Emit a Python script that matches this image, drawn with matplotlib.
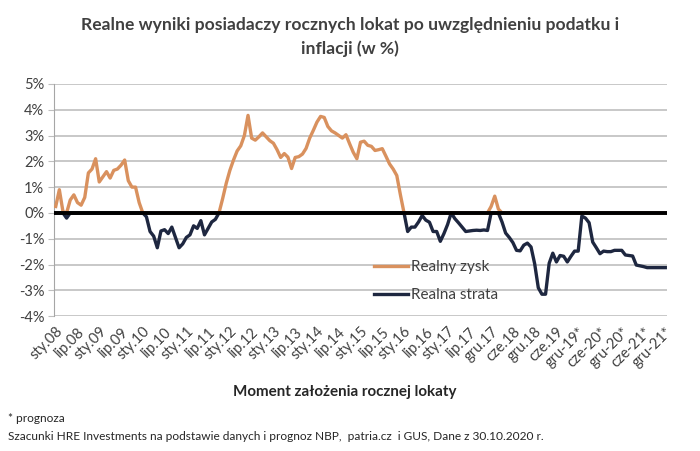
import numpy as np
import matplotlib
matplotlib.use("Agg")
import matplotlib.pyplot as plt
from matplotlib.ticker import FuncFormatter

plt.rcParams['font.family'] = ['Lato', 'DejaVu Sans']

# realny wynik (w %), miesiecznie, od sty.08 do gru-21*
wynik = [
    0.25, 0.9, 0.05, -0.2, 0.5, 0.7, 0.4, 0.3, 0.6, 1.55,
    1.7, 2.1, 1.2, 1.4, 1.6, 1.35, 1.65, 1.7, 1.85, 2.05,
    1.25, 1.0, 1.0, 0.4, 0.0, -0.15, -0.72, -0.9, -1.35, -0.7,
    -0.65, -0.8, -0.55, -0.95, -1.35, -1.2, -0.95, -0.85, -0.5, -0.6,
    -0.3, -0.85, -0.6, -0.35, -0.25, 0.0, 0.55, 1.15, 1.65, 2.05,
    2.4, 2.6, 3.0, 3.78, 2.9, 2.82, 2.95, 3.1, 2.95, 2.8,
    2.7, 2.45, 2.15, 2.3, 2.16, 1.72, 2.15, 2.18, 2.28, 2.5,
    2.9, 3.2, 3.52, 3.74, 3.7, 3.35, 3.18, 3.1, 3.0, 2.9,
    3.03, 2.68, 2.35, 2.1, 2.74, 2.78, 2.62, 2.58, 2.42, 2.45,
    2.49, 2.2, 1.9, 1.7, 1.45, 0.7, 0.0, -0.72, -0.55, -0.55,
    -0.35, -0.1, -0.28, -0.36, -0.72, -0.72, -1.1, -0.8, -0.45, 0.0,
    -0.22, -0.38, -0.55, -0.72, -0.7, -0.68, -0.67, -0.68, -0.66, -0.68,
    0.25, 0.65, 0.15, -0.35, -0.78, -0.95, -1.15, -1.45, -1.47, -1.25,
    -1.17, -1.32, -1.97, -2.9, -3.15, -3.15, -1.95, -1.56, -1.9, -1.65,
    -1.68, -1.9, -1.68, -1.48, -1.48, -0.12, -0.2, -0.38, -1.13, -1.35,
    -1.58, -1.48, -1.5, -1.5, -1.45, -1.45, -1.45, -1.63, -1.65, -1.67,
    -2.02, -2.05, -2.08, -2.12, -2.12, -2.12, -2.12, -2.12, -2.12,
]

etykiety = [
    'sty.08', 'lip.08', 'sty.09', 'lip.09', 'sty.10', 'lip.10', 'sty.11',
    'lip.11', 'sty.12', 'lip.12', 'sty.13', 'lip.13', 'sty.14', 'lip.14',
    'sty.15', 'lip.15', 'sty.16', 'lip.16', 'sty.17', 'lip.17', 'gru.17',
    'cze.18', 'gru.18', 'cze.19', 'gru-19*', 'cze-20*', 'gru-20*',
    'cze-21*', 'gru-21*',
]

wynik = np.array(wynik)
x = np.arange(len(wynik))
zysk = np.clip(wynik, 0, None)
strata = np.clip(wynik, None, 0)

orange = '#D9915E'
navy = '#1E2740'
grey_txt = '#404040'

fig = plt.figure(figsize=(7.0, 4.51), dpi=100)
ax = fig.add_axes([0.077, 0.299, 0.876, 0.515])

ax.set_ylim(-4, 5)
ax.set_xlim(-0.5, len(wynik) - 0.5)
ax.set_yticks(np.arange(-4, 6, 1))
ax.yaxis.set_major_formatter(FuncFormatter(lambda v, p: f'{int(round(v))}%'))
ax.grid(axis='y', color='#BFBFBF', lw=1.2, zorder=0)
ax.set_axisbelow(True)

ax.plot(x, strata, color=navy, lw=2.4, label='Realna strata', zorder=3,
        solid_joinstyle='round')
ax.plot(x, zysk, color=orange, lw=2.4, label='Realny zysk', zorder=3,
        solid_joinstyle='round')
ax.axhline(0, color='black', lw=2.8, zorder=4)

ax.set_xticks(x[::6])
ax.set_xticklabels(etykiety, rotation=45, ha='right', rotation_mode='anchor',
                   fontsize=10.5, color=grey_txt)
ax.tick_params(axis='x', length=0, pad=6)
ax.tick_params(axis='y', length=4, color='#BFBFBF', labelsize=10.5,
               labelcolor=grey_txt, pad=3)

for s in ['top', 'right', 'bottom']:
    ax.spines[s].set_visible(False)
ax.spines['left'].set_color('#A6A6A6')

handles, labels = ax.get_legend_handles_labels()
ax.legend(handles[::-1], labels[::-1], loc='lower left',
          bbox_to_anchor=(0.5, 0.0), frameon=False, fontsize=11,
          handlelength=2.2, handletextpad=0.2, labelspacing=0.95,
          labelcolor=grey_txt)

fig.text(0.5, 0.945, 'Realne wyniki posiadaczy rocznych lokat po uwzględnieniu podatku i',
         ha='center', va='center', fontsize=12.6, fontweight='bold', color=grey_txt)
fig.text(0.5, 0.893, 'inflacji (w %)', ha='center', va='center', fontsize=12.6,
         fontweight='bold', color=grey_txt)
fig.text(0.492, 0.131, 'Moment założenia rocznej lokaty', ha='center', va='center',
         fontsize=10.9, fontweight='bold', color='#262626')
fig.text(0.012, 0.073, '* prognoza', ha='left', va='center', fontsize=8.6,
         color='#262626')
fig.text(0.012, 0.033,
         'Szacunki HRE Investments na podstawie danych i prognoz NBP,  patria.cz  i GUS, Dane z 30.10.2020 r.',
         ha='left', va='center', fontsize=8.6, color='#262626')

fig.savefig('out.png', dpi=100)
